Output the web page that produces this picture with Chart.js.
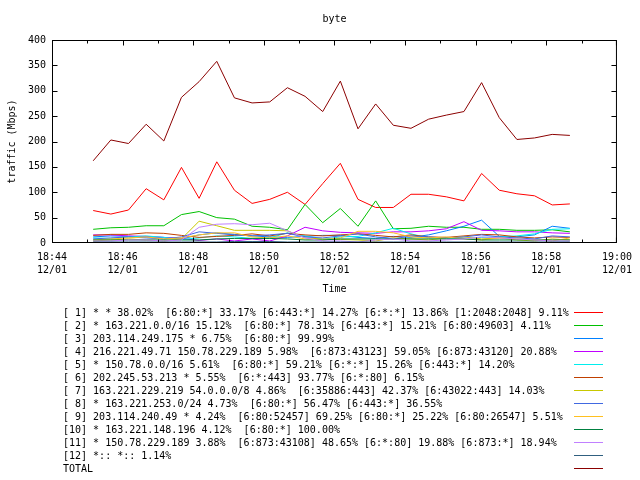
<!DOCTYPE html>
<html lang="en">
<head>
<meta charset="UTF-8">
<title>byte</title>
<script src="https://cdn.jsdelivr.net/npm/chart.js"></script>
<style>
  html, body { margin: 0; padding: 0; background: #fff; }
</style>
</head>
<body>
<canvas id="trafficChart" width="640" height="480"></canvas>
<script>
// sample times, one every 30 s
const times = ['18:45:10','18:45:40','18:46:10','18:46:40','18:47:10','18:47:40','18:48:10',
  '18:48:40','18:49:10','18:49:40','18:50:10','18:50:40','18:51:10','18:51:40','18:52:10',
  '18:52:40','18:53:10','18:53:40','18:54:10','18:54:40','18:55:10','18:55:40','18:56:10',
  '18:56:40','18:57:10','18:57:40','18:58:10','18:58:40'];

// one tick per minute from 18:44, labelled every two minutes
const xTickLabels = ['18:44','','18:46','','18:48','','18:50','','18:52','','18:54','','18:56','','18:58','','19:00'];
const dateLabel = '12/01';

// traffic in Mbps
const s1  = [64,57,65,107,85,149,88,160,104,78,86,100,76,117,157,86,70,70,96,96,91,83,137,104,97,93,75,77];
const s2  = [27,30,31,34,34,56,62,50,47,33,31,26,76,40,68,33,83,28,29,33,31,31,27,27,25,25,26,22];
const s3  = [12,14,13,12,11,8,16,20,17,14,12,11,13,15,15,11,9,13,11,16,24,33,45,13,12,16,33,29];
const s4  = [16,16,14,13,11,9,5,8,4,8,4,14,31,24,21,20,19,22,22,24,28,42,25,24,22,22,20,19];
const s5  = [10,9,12,14,11,7,10,14,12,9,10,20,14,7,12,13,20,29,18,10,10,9,11,12,14,18,27,28];
const s6  = [15,17,17,20,19,15,11,13,15,18,14,19,16,14,16,18,15,12,16,12,11,14,17,16,12,10,12,11];
const s7  = [4,6,8,6,4,8,43,34,25,25,25,24,10,8,7,6,4,10,8,6,10,12,8,10,6,4,8,6];
const s8  = [8,10,12,10,8,12,22,19,16,14,16,19,12,10,14,18,12,8,14,12,10,12,16,12,10,8,14,12];
const s9  = [6,8,10,12,8,10,16,20,20,12,10,14,8,6,10,23,23,20,12,10,12,8,6,10,8,6,4,10];
const s10 = [6,6,6,6,6,6,6,8,9,9,9,8,6,6,8,8,8,8,8,8,8,8,6,6,6,6,6,6];
const s11 = [4,4,6,6,4,6,31,37,38,36,39,24,10,4,4,2,6,8,4,4,6,8,12,10,8,6,4,4];
const s12 = [2,2,2,2,2,2,2,2,3,3,3,2,2,2,2,2,2,2,2,2,2,2,2,2,2,2,2,2];
const total = [162,203,196,234,201,287,318,358,286,276,278,306,289,259,319,225,274,232,226,244,252,259,316,247,204,207,214,212];

const seriesValues = [s1, s2, s3, s4, s5, s6, s7, s8, s9, s10, s11, s12, total];

const seriesLabels = [
  '[ 1] * * 38.02%  [6:80:*] 33.17% [6:443:*] 14.27% [6:*:*] 13.86% [1:2048:2048] 9.11%',
  '[ 2] * 163.221.0.0/16 15.12%  [6:80:*] 78.31% [6:443:*] 15.21% [6:80:49603] 4.11%',
  '[ 3] 203.114.249.175 * 6.75%  [6:80:*] 99.99%',
  '[ 4] 216.221.49.71 150.78.229.189 5.98%  [6:873:43123] 59.05% [6:873:43120] 20.88%',
  '[ 5] * 150.78.0.0/16 5.61%  [6:80:*] 59.21% [6:*:*] 15.26% [6:443:*] 14.20%',
  '[ 6] 202.245.53.213 * 5.55%  [6:*:443] 93.77% [6:*:80] 6.15%',
  '[ 7] 163.221.229.219 54.0.0.0/8 4.86%  [6:35886:443] 42.37% [6:43022:443] 14.03%',
  '[ 8] * 163.221.253.0/24 4.73%  [6:80:*] 56.47% [6:443:*] 36.55%',
  '[ 9] 203.114.240.49 * 4.24%  [6:80:52457] 69.25% [6:80:*] 25.22% [6:80:26547] 5.51%',
  '[10] * 163.221.148.196 4.12%  [6:80:*] 100.00%',
  '[11] * 150.78.229.189 3.88%  [6:873:43108] 48.65% [6:*:80] 19.88% [6:873:*] 18.94%',
  '[12] *:: *:: 1.14%',
  'TOTAL'
];

const seriesColors = ['#ff0000','#00c000','#0080ff','#c000ff','#00eeee','#c04000',
  '#c8c800','#4169e1','#ffc020','#008040','#c080ff','#306080','#8b0000'];

const FONT = "'DejaVu Sans Mono', monospace";

// seconds since 18:44:00
function toSeconds(t) {
  const p = t.split(':').map(Number);
  return (p[0] * 3600 + p[1] * 60 + p[2]) - (18 * 3600 + 44 * 60);
}

const datasets = seriesValues.map((vals, i) => ({
  label: seriesLabels[i],
  data: vals.map((v, j) => ({ x: toSeconds(times[j]), y: v })),
  borderColor: seriesColors[i],
  borderWidth: 1,
  pointRadius: 0,
  tension: 0,
  fill: false,
  order: seriesValues.length - i
}));

// border box and inward tick marks, gnuplot style
const frameTicks = {
  id: 'frameTicks',
  afterDatasetsDraw(chart) {
    const { ctx, chartArea: a, scales: { x, y } } = chart;
    const l = a.left + 0.5, r = a.right - 0.5, t = a.top + 0.5, b = a.bottom - 0.5;
    const clamp = (v, lo, hi) => Math.min(Math.max(v, lo), hi);
    ctx.save();
    ctx.strokeStyle = '#000';
    ctx.lineWidth = 1;
    ctx.strokeRect(l, t, r - l, b - t);
    ctx.beginPath();
    x.ticks.forEach(tk => {
      const px = clamp(Math.round(x.getPixelForValue(tk.value)) + 0.5, l, r);
      const len = xTickLabels[Math.round(tk.value / 60)] ? 5 : 3;
      ctx.moveTo(px, b); ctx.lineTo(px, b - len);
      ctx.moveTo(px, t); ctx.lineTo(px, t + len);
    });
    y.ticks.forEach(tk => {
      const py = clamp(Math.round(y.getPixelForValue(tk.value)) + 0.5, t, b);
      ctx.moveTo(l, py); ctx.lineTo(l + 5, py);
      ctx.moveTo(r, py); ctx.lineTo(r - 5, py);
    });
    ctx.stroke();
    ctx.restore();
  }
};

// legend below the plot: text on the left, line sample on the right
const rowLegend = {
  id: 'rowLegend',
  afterDraw(chart) {
    const { ctx } = chart;
    ctx.save();
    ctx.font = '10px ' + FONT;
    ctx.textBaseline = 'middle';
    ctx.fillStyle = '#000';
    chart.data.datasets.forEach((ds, i) => {
      const yy = 313 + i * 13;
      ctx.fillText(ds.label, 63, yy);
      ctx.strokeStyle = ds.borderColor;
      ctx.lineWidth = 1;
      ctx.beginPath();
      ctx.moveTo(574, yy - 0.5);
      ctx.lineTo(603, yy - 0.5);
      ctx.stroke();
    });
    ctx.restore();
  }
};

const tickFont = { family: FONT, size: 10, lineHeight: 1.3 };
const titleFont = { family: FONT, size: 10, lineHeight: 1.2 };

new Chart(document.getElementById('trafficChart'), {
  type: 'line',
  data: { datasets },
  plugins: [frameTicks, rowLegend],
  options: {
    responsive: false,
    animation: false,
    devicePixelRatio: 1,
    layout: { padding: { left: 0, top: 0, right: 0, bottom: 185 } },
    plugins: { legend: { display: false }, title: { display: false }, tooltip: { enabled: false } },
    scales: {
      x: {
        type: 'linear',
        position: 'bottom',
        min: 0,
        max: 960,
        grid: { display: false, drawTicks: false },
        border: { display: false },
        ticks: {
          stepSize: 60,
          autoSkip: false,
          maxRotation: 0,
          padding: 8,
          color: '#000',
          font: tickFont,
          callback: v => {
            const lbl = xTickLabels[Math.round(v / 60)];
            return lbl ? [lbl, dateLabel] : '';
          }
        },
        title: { display: true, text: 'Time', color: '#000', font: titleFont, padding: 0 },
        afterFit: s => { s.height = 52; }
      },
      xTop: {
        type: 'linear',
        position: 'top',
        min: 0,
        max: 960,
        grid: { display: false },
        border: { display: false },
        ticks: { display: false },
        title: { display: true, text: 'byte', color: '#000', font: titleFont, padding: { top: 13, bottom: 0 } },
        afterFit: s => { s.height = 40; }
      },
      y: {
        position: 'left',
        min: 0,
        max: 400,
        grid: { display: false, drawTicks: false },
        border: { display: false },
        ticks: { stepSize: 50, padding: 6, color: '#000', font: tickFont },
        title: { display: true, text: 'traffic (Mbps)', color: '#000', font: titleFont, padding: { top: 6, bottom: 0 } },
        afterFit: s => { s.width = 52; }
      },
      yRight: {
        position: 'right',
        min: 0,
        max: 400,
        grid: { display: false },
        border: { display: false },
        ticks: { display: false },
        afterFit: s => { s.width = 18; }
      }
    }
  }
});
</script>
</body>
</html>
